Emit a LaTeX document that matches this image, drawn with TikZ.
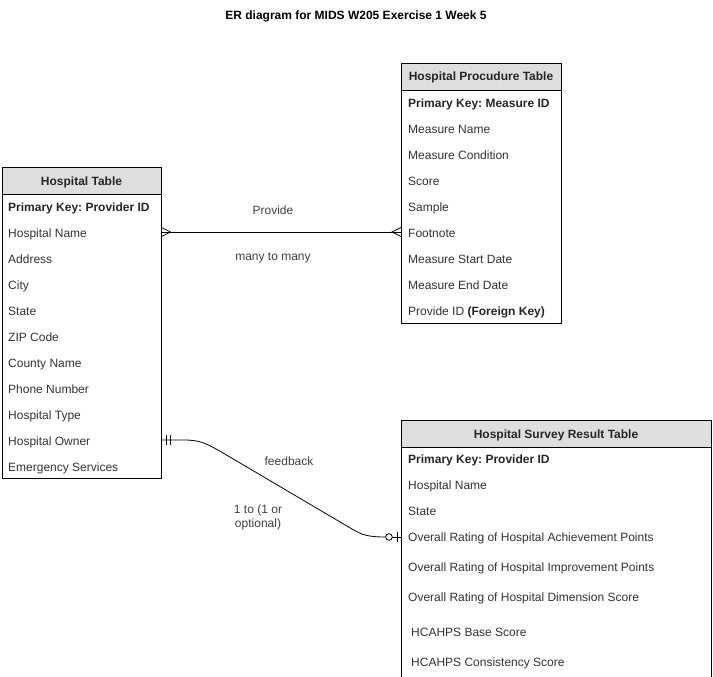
\documentclass[tikz,border=0pt]{standalone}
\usepackage{fontspec}
\setmainfont{Liberation Sans}
\frenchspacing
\begin{document}
\begin{tikzpicture}[x=1pt,y=-1pt,
  every node/.style={inner sep=0pt, font=\fontsize{12}{14}\selectfont, text=black!80},
  tablebox/.style={draw=black, line width=0.8pt, fill=white},
  headbox/.style={draw=black, line width=0.8pt, fill=black!13},
  headtext/.style={font=\fontsize{12}{14}\selectfont\bfseries, text=black!85, text height=9pt, text depth=3pt},
  field/.style={anchor=west, text height=9pt, text depth=3pt},
  keyfield/.style={anchor=west, text height=9pt, text depth=3pt, font=\fontsize{12}{14}\selectfont\bfseries, text=black!85},
  conn/.style={line width=0.8pt, black},
  lbl/.style={text=black!75, text height=9pt, text depth=3pt}]
\useasboundingbox (0,0) rectangle (713,677);
\clip (0,0) rectangle (713,677);

% title
\node[font=\fontsize{12}{14}\selectfont\bfseries, text=black, text height=9pt, text depth=3pt] (title) at (356,17) {ER diagram for MIDS W205 Exercise 1 Week 5};

% ---------- Hospital Table ----------
\draw[tablebox] (2,167) rectangle (161,478);
\draw[headbox] (2,167) rectangle (161,194);
\node[minimum width=159pt, minimum height=311pt, anchor=north west] (ht) at (2,167) {};
\node[headtext] (hthead) at (81.5,182) {Hospital Table};
\node[keyfield] (htpk) at (8,208) {Primary Key: Provider ID};
\node[field] (htname) at (8,234) {Hospital Name};
\node[field] (htaddr) at (8,260) {Address};
\node[field] (htcity) at (8,286) {City};
\node[field] (htstate) at (8,312) {State};
\node[field] (htzip) at (8,338) {ZIP Code};
\node[field] (htcounty) at (8,364) {County Name};
\node[field] (htphone) at (8,390) {Phone Number};
\node[field] (httype) at (8,416) {Hospital Type};
\node[field] (htowner) at (8,442) {Hospital Owner};
\node[field] (htemerg) at (8,468) {Emergency Services};

% ---------- Hospital Procudure Table ----------
\draw[tablebox] (401,63) rectangle (561,323);
\draw[headbox] (401,63) rectangle (561,90);
\node[minimum width=160pt, minimum height=260pt, anchor=north west] (pt) at (401,63) {};
\node[headtext] (pthead) at (481,78) {Hospital Procudure Table};
\node[keyfield] (ptpk) at (408,104) {Primary Key: Measure ID};
\node[field] (ptname) at (408,130) {Measure Name};
\node[field] (ptcond) at (408,156) {Measure Condition};
\node[field] (ptscore) at (408,182) {Score};
\node[field] (ptsample) at (408,208) {Sample};
\node[field] (ptfoot) at (408,234) {Footnote};
\node[field] (ptstart) at (408,260) {Measure Start Date};
\node[field] (ptend) at (408,286) {Measure End Date};
\node[field] (ptfk) at (408,312) {Provide ID \textbf{\textcolor{black!85}{(Foreign Key)}}};

% ---------- Hospital Survey Result Table ----------
\draw[tablebox] (401,420) rectangle (711,690);
\draw[headbox] (401,420) rectangle (711,447);
\node[minimum width=310pt, minimum height=270pt, anchor=north west] (st) at (401,420) {};
\node[headtext] (sthead) at (556,435) {Hospital Survey Result Table};
\node[keyfield] (stpk) at (408,460) {Primary Key: Provider ID};
\node[field] (stname) at (408,486) {Hospital Name};
\node[field] (ststate) at (408,512) {State};
\node[field] (stach) at (408,538) {Overall Rating of Hospital Achievement Points};
\node[field] (stimp) at (408,568) {Overall Rating of Hospital Improvement Points};
\node[field] (stdim) at (408,598) {Overall Rating of Hospital Dimension Score};
\node[field] (stbase) at (411,633) {HCAHPS Base Score};
\node[field] (stcons) at (411,663) {HCAHPS Consistency Score};

% ---------- many-to-many: Provide ----------
\coordinate (pa) at (ht.east |- 0,232);
\coordinate (pb) at (pt.west |- 0,232);
\draw[conn] (pa) -- (pb);
% crow's feet at both ends
\draw[conn] ([yshift=-4.5pt]pa) -- ([xshift=9pt]pa) -- ([yshift=4.5pt]pa);
\draw[conn] ([yshift=-4.5pt]pb) -- ([xshift=-9pt]pb) -- ([yshift=4.5pt]pb);
\node[lbl] (provide) at (273,211) {Provide};
\node[lbl] (m2m) at (273,257) {many to many};

% ---------- one to (one or optional): feedback ----------
\coordinate (fa) at (ht.east |- 0,440);
\coordinate (fb) at (st.west |- 0,537);
\draw[conn] (fa) -- ++(22,0) .. controls ++(16,0) and (205,443) .. (218,450)
  -- (352,529) .. controls (362,535) and (368,537) .. (386,537);
\draw[conn] ([xshift=-12pt]fb) -- (fb);
% mandatory one: double bar
\draw[conn] ([xshift=5pt,yshift=-5pt]fa) -- ([xshift=5pt,yshift=5pt]fa);
\draw[conn] ([xshift=9pt,yshift=-5pt]fa) -- ([xshift=9pt,yshift=5pt]fa);
% optional one: circle and bar
\draw[conn, fill=white] ([xshift=-12pt]fb) circle (3.3pt);
\draw[conn] ([xshift=-4pt,yshift=-5pt]fb) -- ([xshift=-4pt,yshift=5pt]fb);
\node[lbl] (feedback) at (289,462) {feedback};
\node[lbl, align=center, font=\fontsize{12}{14}\selectfont] (onetoone) at (258,524) {1 to (1 or\\optional)};
\end{tikzpicture}
\end{document}
